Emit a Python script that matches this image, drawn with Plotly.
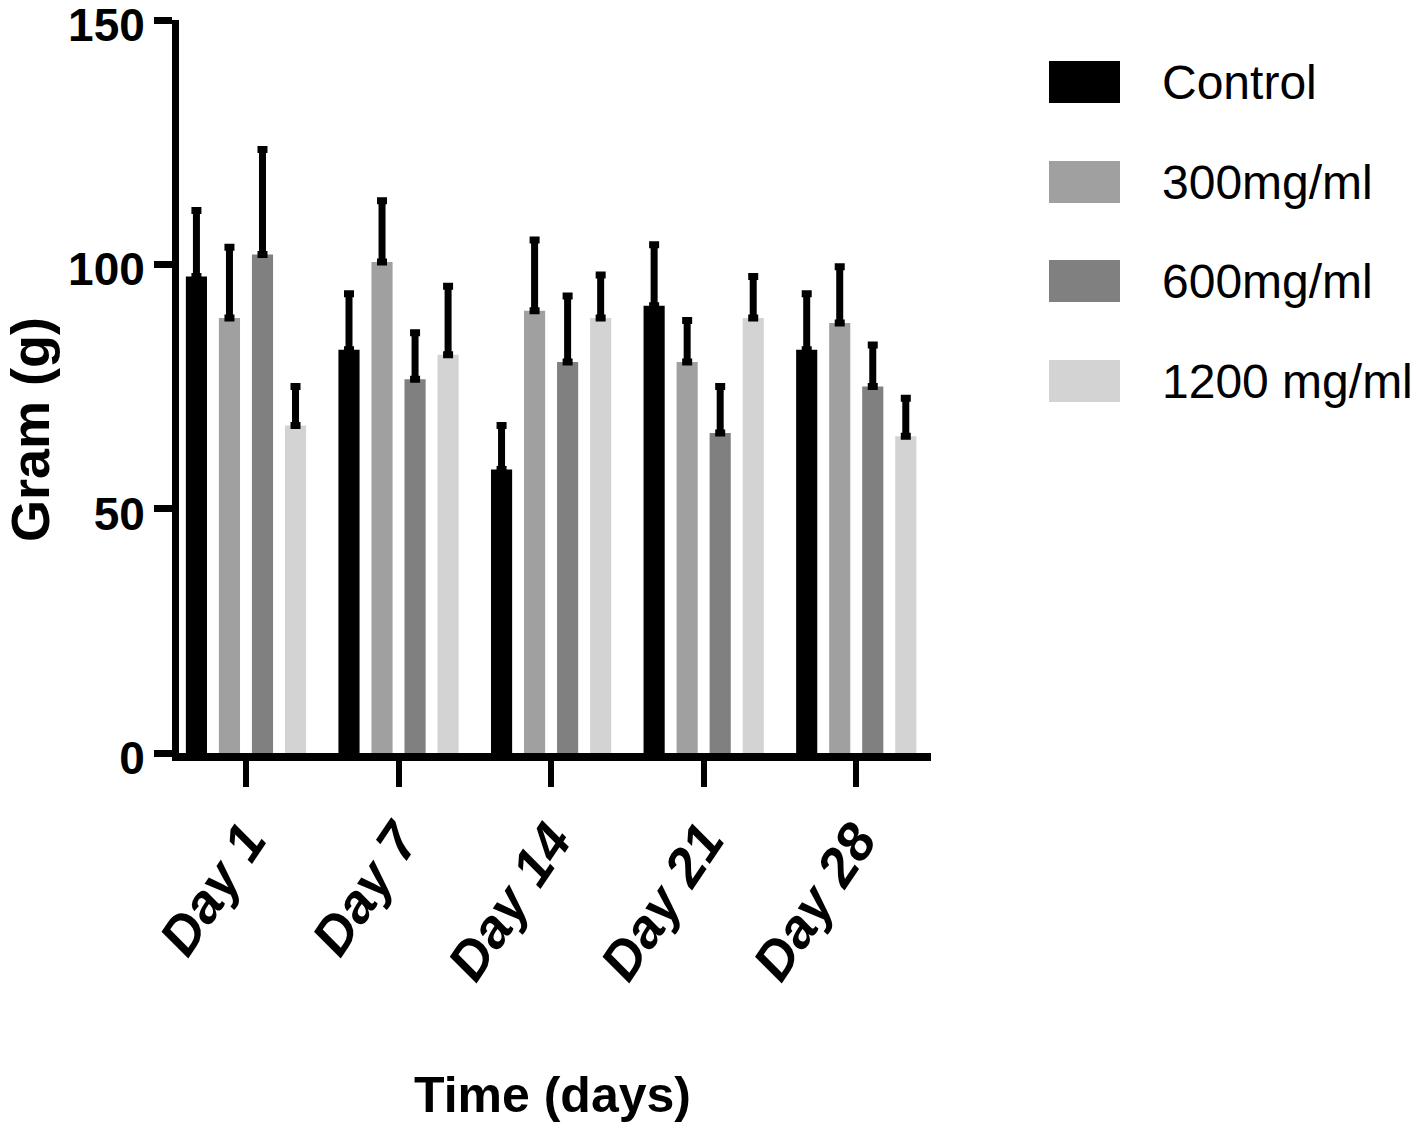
import plotly.graph_objects as go

# ---- data ----
days = ["Day 1", "Day 7", "Day 14", "Day 21", "Day 28"]
series_names = ["Control", "300mg/ml", "600mg/ml", "1200 mg/ml"]
control = [97.5, 82.5, 58.0, 91.5, 82.5]
mg300 = [89.0, 100.5, 90.5, 80.0, 88.0]
mg600 = [102.0, 76.5, 80.0, 65.5, 75.0]
mg1200 = [67.0, 81.5, 89.0, 89.0, 64.8]
control_err = [13.5, 11.5, 9.0, 12.5, 11.5]
mg300_err = [14.5, 12.5, 14.5, 8.5, 11.5]
mg600_err = [21.5, 9.5, 13.5, 9.5, 8.5]
mg1200_err = [8.0, 14.0, 8.8, 8.5, 7.8]
colors = ["#000000", "#a0a0a0", "#808080", "#d3d3d3"]
y_ticks = [0, 50, 100, 150]

W, H = 1418, 1138
L, R, T, B = 179, 487, 20, 385
PW, PH = W - L - R, H - T - B

FONT = "Liberation Sans, Arial, sans-serif"

fig = go.Figure()
vals = [control, mg300, mg600, mg1200]
errs = [control_err, mg300_err, mg600_err, mg1200_err]
for name, v, e, c in zip(series_names, vals, errs, colors):
    fig.add_trace(go.Bar(
        x=days, y=v, name=name,
        marker=dict(color=c, line=dict(width=0)),
        error_y=dict(type="data", array=e, arrayminus=[0] * len(e), symmetric=False,
                     color="black", thickness=7, width=5, visible=True),
        showlegend=False,
    ))

def px_to_paper(px, py):
    return (px - L) / PW, (H - B - py) / PH

# manual legend
legend_y = [82, 182, 281, 381]
for name, c, cy in zip(series_names, colors, legend_y):
    x0, y0 = px_to_paper(1049, cy - 21)
    x1, y1 = px_to_paper(1120, cy + 21)
    fig.add_shape(type="rect", xref="paper", yref="paper", x0=x0, x1=x1, y0=y1, y1=y0,
                  fillcolor=c, line=dict(width=0))
    tx, ty = px_to_paper(1160, cy)
    fig.add_annotation(xref="paper", yref="paper", x=tx, y=ty, text=name, showarrow=False,
                       xanchor="left", yanchor="middle",
                       font=dict(family=FONT, size=48, color="black"))

# axis titles
ax, ay = px_to_paper(30, 430)
fig.add_annotation(xref="paper", yref="paper", x=ax, y=ay, text="<b>Gram (g)</b>", showarrow=False,
                   textangle=-90, xanchor="center", yanchor="middle",
                   font=dict(family=FONT, size=54, color="black"))
bx, by = px_to_paper(552, 1095)
fig.add_annotation(xref="paper", yref="paper", x=bx, y=by, text="<b>Time (days)</b>", showarrow=False,
                   xanchor="center", yanchor="middle",
                   font=dict(family=FONT, size=50, color="black"))

fig.update_layout(
    width=W, height=H,
    margin=dict(l=L, r=R, t=T, b=B, pad=0, autoexpand=False),
    paper_bgcolor="white", plot_bgcolor="white",
    barmode="group", bargap=0.134, bargroupgap=0.36,
    showlegend=False,
)
fig.update_xaxes(
    range=[-0.439, 4.49], showgrid=False, zeroline=False, automargin=False,
    showline=True, linecolor="black", linewidth=8,
    ticks="outside", ticklen=26, tickwidth=6, tickcolor="black",
    tickangle=-56,
    tickfont=dict(family=FONT, size=54, color="black", weight="bold", style="italic"),
)
fig.update_yaxes(
    range=[0, 150], showgrid=False, zeroline=False, automargin=False,
    showline=True, linecolor="black", linewidth=7,
    ticks="outside", ticklen=18, tickwidth=7, tickcolor="black",
    tickvals=y_ticks, ticktext=[str(t) for t in y_ticks],
    ticklabeloverflow="allow", ticklabelshift=5,
    tickfont=dict(family=FONT, size=46, color="black", weight="bold"),
)

fig.write_html("out.html", config={"displayModeBar": False},
               post_script="document.body.style.margin='0';document.body.style.overflow='hidden';")
